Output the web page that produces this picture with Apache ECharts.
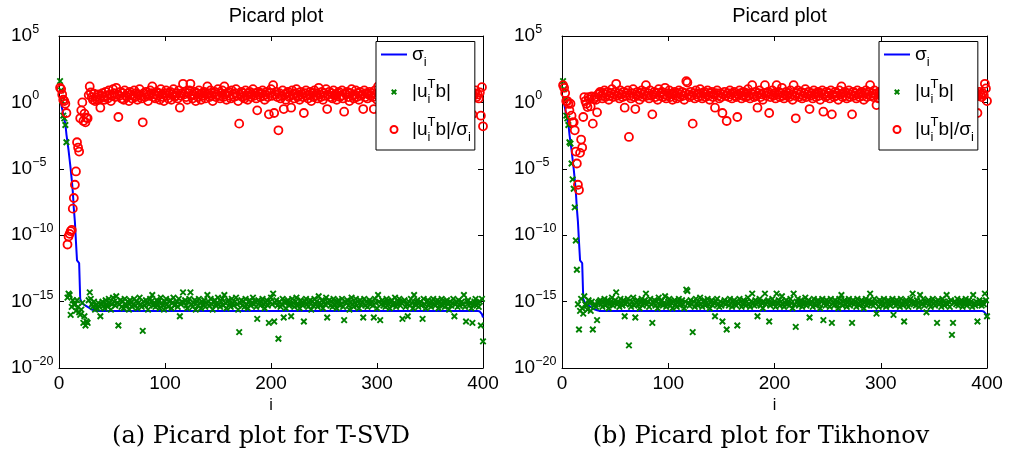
<!DOCTYPE html>
<html><head><meta charset="utf-8">
<script src="https://cdn.jsdelivr.net/npm/echarts@6/dist/echarts.min.js"></script>
<style>html,body{margin:0;padding:0;background:#fff}#c{width:1010px;height:464px}</style>
</head><body><div id="c"></div>
<script>
// ---------------- data (log10 of the plotted values, i = 1..400) ----------------
const xTicks = [0, 100, 200, 300, 400];
const yTickExponents = [-20, -15, -10, -5, 0, 5];
const panelTitles = ['Picard plot', 'Picard plot'];
const captions = ['(a) Picard plot for T-SVD', '(b) Picard plot for Tikhonov'];
const seriesNames = ['\u03c3_i', '|u_i^T b|', '|u_i^T b|/\u03c3_i'];
const xName = 'i';

// singular values sigma_i (same in both panels)
const sigmaExp = [
0.3,-0.1,-0.5,-0.9,-1.3,-1.6,-2.4,-3.0,-3.6,-4.3,
-5.0,-5.8,-6.7,-8.0,-9.0,-10.5,-11.9,-12.0,-12.1,-14.8,
-15.0,-15.1,-15.2,-15.25,-15.3,-15.35,-15.4,-15.45,-15.5,-15.55,
-15.6,-15.62,-15.65,-15.7,-15.7,-15.7,-15.7,-15.7,-15.7,-15.7,
-15.7,-15.7,-15.7,-15.7,-15.7,-15.7,-15.7,-15.7,-15.7,-15.7,
-15.7,-15.7,-15.7,-15.7,-15.7,-15.7,-15.7,-15.7,-15.7,-15.7,
-15.7,-15.7,-15.7,-15.7,-15.7,-15.7,-15.7,-15.7,-15.7,-15.7,
-15.7,-15.7,-15.7,-15.7,-15.7,-15.7,-15.7,-15.7,-15.7,-15.7,
-15.7,-15.7,-15.7,-15.7,-15.7,-15.7,-15.7,-15.7,-15.7,-15.7,
-15.7,-15.7,-15.7,-15.7,-15.7,-15.7,-15.7,-15.7,-15.7,-15.7,
-15.7,-15.7,-15.7,-15.7,-15.7,-15.7,-15.7,-15.7,-15.7,-15.7,
-15.7,-15.7,-15.7,-15.7,-15.7,-15.7,-15.7,-15.7,-15.7,-15.7,
-15.7,-15.7,-15.7,-15.7,-15.7,-15.7,-15.7,-15.7,-15.7,-15.7,
-15.7,-15.7,-15.7,-15.7,-15.7,-15.7,-15.7,-15.7,-15.7,-15.7,
-15.7,-15.7,-15.7,-15.7,-15.7,-15.7,-15.7,-15.7,-15.7,-15.7,
-15.7,-15.7,-15.7,-15.7,-15.7,-15.7,-15.7,-15.7,-15.7,-15.7,
-15.7,-15.7,-15.7,-15.7,-15.7,-15.7,-15.7,-15.7,-15.7,-15.7,
-15.7,-15.7,-15.7,-15.7,-15.7,-15.7,-15.7,-15.7,-15.7,-15.7,
-15.7,-15.7,-15.7,-15.7,-15.7,-15.7,-15.7,-15.7,-15.7,-15.7,
-15.7,-15.7,-15.7,-15.7,-15.7,-15.7,-15.7,-15.7,-15.7,-15.7,
-15.7,-15.7,-15.7,-15.7,-15.7,-15.7,-15.7,-15.7,-15.7,-15.7,
-15.7,-15.7,-15.7,-15.7,-15.7,-15.7,-15.7,-15.7,-15.7,-15.7,
-15.7,-15.7,-15.7,-15.7,-15.7,-15.7,-15.7,-15.7,-15.7,-15.7,
-15.7,-15.7,-15.7,-15.7,-15.7,-15.7,-15.7,-15.7,-15.7,-15.7,
-15.7,-15.7,-15.7,-15.7,-15.7,-15.7,-15.7,-15.7,-15.7,-15.7,
-15.7,-15.7,-15.7,-15.7,-15.7,-15.7,-15.7,-15.7,-15.7,-15.7,
-15.7,-15.7,-15.7,-15.7,-15.7,-15.7,-15.7,-15.7,-15.7,-15.7,
-15.7,-15.7,-15.7,-15.7,-15.7,-15.7,-15.7,-15.7,-15.7,-15.7,
-15.7,-15.7,-15.7,-15.7,-15.7,-15.7,-15.7,-15.7,-15.7,-15.7,
-15.7,-15.7,-15.7,-15.7,-15.7,-15.7,-15.7,-15.7,-15.7,-15.7,
-15.7,-15.7,-15.7,-15.7,-15.7,-15.7,-15.7,-15.7,-15.7,-15.7,
-15.7,-15.7,-15.7,-15.7,-15.7,-15.7,-15.7,-15.7,-15.7,-15.7,
-15.7,-15.7,-15.7,-15.7,-15.7,-15.7,-15.7,-15.7,-15.7,-15.7,
-15.7,-15.7,-15.7,-15.7,-15.7,-15.7,-15.7,-15.7,-15.7,-15.7,
-15.7,-15.7,-15.7,-15.7,-15.7,-15.7,-15.7,-15.7,-15.7,-15.7,
-15.7,-15.7,-15.7,-15.7,-15.7,-15.7,-15.7,-15.7,-15.7,-15.7,
-15.7,-15.7,-15.7,-15.7,-15.7,-15.7,-15.7,-15.7,-15.7,-15.7,
-15.7,-15.7,-15.7,-15.7,-15.7,-15.7,-15.7,-15.7,-15.7,-15.7,
-15.7,-15.7,-15.7,-15.7,-15.7,-15.7,-15.7,-15.7,-15.7,-15.7,
-15.7,-15.7,-15.7,-15.7,-15.7,-15.7,-15.75,-15.8,-15.95,-16.2
];

// panel (a): |u_i^T b|
const uTbExpA = [
1.6,0.9,0.1,-1.0,-1.2,-1.7,-3.0,-14.7,-14.4,-14.5,
-16.0,-15.4,-14.9,-15.2,-15.2,-15.7,-14.9,-15.4,-15.8,-16.0,
-15.6,-15.1,-16.6,-16.1,-16.8,-16.5,-16.6,-14.9,-14.3,-14.8,
-15.2,-15.4,-15.0,-15.6,-15.3,-15.5,-15.1,-15.4,-16.1,-15.2,
-15.0,-15.3,-15.5,-14.9,-15.2,-15.4,-14.8,-15.1,-15.6,-15.2,
-14.7,-15.0,-15.3,-14.6,-15.1,-16.8,-15.2,-14.9,-15.4,-15.0,
-15.5,-14.8,-15.2,-15.3,-15.0,-15.6,-14.9,-15.1,-15.4,-15.2,
-14.8,-15.3,-15.0,-15.5,-15.1,-14.7,-15.2,-15.4,-17.2,-15.0,
-15.3,-14.9,-15.1,-15.6,-15.2,-14.8,-15.0,-14.5,-15.3,-15.1,
-15.4,-14.9,-15.2,-15.0,-15.5,-14.7,-15.1,-15.3,-15.6,-15.0,
-14.8,-15.2,-15.4,-15.0,-14.9,-15.5,-15.1,-14.7,-15.3,-15.2,
-15.0,-15.4,-14.8,-16.1,-15.2,-15.0,-14.3,-15.1,-14.9,-15.3,
-15.5,-15.0,-14.8,-14.3,-15.2,-15.4,-15.1,-14.9,-15.6,-15.0,
-15.3,-14.8,-15.1,-15.5,-15.0,-15.2,-14.9,-15.4,-15.1,-14.5,
-15.0,-15.3,-14.8,-15.2,-15.6,-15.0,-14.9,-15.3,-15.1,-14.7,
-15.2,-15.4,-15.0,-14.8,-15.3,-14.5,-15.1,-15.5,-15.0,-14.9,
-15.2,-15.4,-14.8,-15.1,-15.3,-15.0,-14.7,-15.2,-15.6,-17.3,
-15.1,-14.9,-15.3,-15.0,-15.4,-14.8,-15.2,-15.5,-15.0,-14.9,
-15.3,-15.1,-14.7,-15.2,-15.0,-15.4,-16.3,-14.9,-15.1,-15.3,
-15.0,-14.8,-15.2,-15.5,-15.1,-14.9,-15.3,-16.6,-15.0,-14.7,
-15.2,-14.4,-16.5,-15.1,-14.9,-15.3,-17.8,-15.0,-15.4,-15.2,
-14.8,-16.2,-15.1,-15.5,-15.0,-14.9,-15.3,-15.2,-16.1,-14.8,
-15.1,-15.4,-15.0,-14.7,-15.3,-15.2,-15.5,-14.9,-15.1,-15.3,
-16.5,-15.0,-14.8,-15.2,-15.4,-15.1,-14.9,-15.6,-15.0,-15.3,
-14.8,-15.2,-15.0,-15.4,-14.6,-15.1,-15.3,-14.9,-15.5,-15.0,
-15.2,-14.7,-16.2,-15.1,-14.9,-15.3,-15.0,-15.4,-14.8,-15.2,
-15.1,-15.5,-15.0,-14.9,-15.3,-15.2,-14.8,-15.4,-16.4,-15.0,
-15.1,-14.9,-15.3,-15.6,-15.0,-14.7,-15.2,-15.4,-15.1,-14.8,
-15.3,-15.0,-15.5,-14.9,-15.2,-15.1,-16.2,-14.8,-15.3,-15.0,
-15.4,-15.1,-14.9,-15.2,-15.0,-15.3,-16.2,-14.8,-15.1,-15.5,
-14.5,-15.0,-16.4,-15.2,-14.9,-15.3,-15.1,-15.4,-14.8,-15.0,
-15.2,-15.5,-15.0,-14.9,-15.3,-15.1,-14.7,-15.4,-15.2,-15.0,
-14.8,-15.3,-15.1,-16.3,-15.0,-14.9,-15.4,-15.2,-16.1,-15.0,
-15.3,-14.8,-15.1,-15.5,-14.5,-15.2,-15.0,-14.9,-15.4,-15.1,
-15.0,-15.3,-16.3,-14.8,-15.2,-15.5,-15.0,-14.9,-15.3,-15.1,
-15.4,-15.0,-14.8,-15.2,-15.3,-15.1,-14.9,-15.5,-15.0,-15.2,
-14.8,-15.3,-15.1,-15.4,-15.0,-14.9,-15.2,-15.6,-15.0,-15.3,
-15.1,-14.8,-16.1,-15.2,-15.0,-15.4,-14.9,-15.3,-15.1,-15.0,
-15.2,-14.5,-15.4,-16.5,-15.0,-14.9,-15.3,-15.1,-15.5,-16.6,
-15.2,-15.0,-14.8,-15.3,-15.1,-15.4,-15.0,-16.8,-14.8,-18.0
];

// panel (a): |u_i^T b| / sigma_i
const ratioExpA = [
1.1,1.0,0.6,0.2,0.1,-0.1,-0.8,-10.7,-10.1,-9.9,
-9.7,-9.6,-8.0,-7.2,-6.2,-5.2,-3.0,-3.4,-3.7,-1.2,
-0.6,0.0,-1.4,-0.85,-1.5,-1.15,-1.2,0.55,1.2,0.75,
0.4,0.2,0.65,0.1,0.4,0.2,0.6,0.3,-0.4,0.5,
0.7,0.4,0.2,0.8,0.5,0.3,0.9,0.6,0.1,0.5,
1.0,0.7,0.4,1.1,0.6,-1.1,0.5,0.8,0.3,0.7,
0.2,0.9,0.5,0.4,0.7,0.1,0.8,0.6,0.3,0.5,
0.9,0.4,0.7,0.2,0.6,1.0,0.5,0.3,-1.5,0.7,
0.4,0.8,0.6,0.1,0.5,0.9,0.7,1.2,0.4,0.6,
0.3,0.8,0.5,0.7,0.2,1.0,0.6,0.4,0.1,0.7,
0.9,0.5,0.3,0.7,0.8,0.2,0.6,1.0,0.4,0.5,
0.7,0.3,0.9,-0.4,0.5,0.7,1.4,0.6,0.8,0.4,
0.2,0.7,0.9,1.4,0.5,0.3,0.6,0.8,0.1,0.7,
0.4,0.9,0.6,0.2,0.7,0.5,0.8,0.3,0.6,1.2,
0.7,0.4,0.9,0.5,0.1,0.7,0.8,0.4,0.6,1.0,
0.5,0.3,0.7,0.9,0.4,1.2,0.6,0.2,0.7,0.8,
0.5,0.3,0.9,0.6,0.4,0.7,1.0,0.5,0.1,-1.6,
0.6,0.8,0.4,0.7,0.3,0.9,0.5,0.2,0.7,0.8,
0.4,0.6,1.0,0.5,0.7,0.3,-0.6,0.8,0.6,0.4,
0.7,0.9,0.5,0.2,0.6,0.8,0.4,-0.9,0.7,1.0,
0.5,1.3,-0.8,0.6,0.8,0.4,-2.1,0.7,0.3,0.5,
0.9,-0.5,0.6,0.2,0.7,0.8,0.4,0.5,-0.4,0.9,
0.6,0.3,0.7,1.0,0.4,0.5,0.2,0.8,0.6,0.4,
-0.8,0.7,0.9,0.5,0.3,0.6,0.8,0.1,0.7,0.4,
0.9,0.5,0.7,0.3,1.1,0.6,0.4,0.8,0.2,0.7,
0.5,1.0,-0.5,0.6,0.8,0.4,0.7,0.3,0.9,0.5,
0.6,0.2,0.7,0.8,0.4,0.5,0.9,0.3,-0.7,0.7,
0.6,0.8,0.4,0.1,0.7,1.0,0.5,0.3,0.6,0.9,
0.4,0.7,0.2,0.8,0.5,0.6,-0.5,0.9,0.4,0.7,
0.3,0.6,0.8,0.5,0.7,0.4,-0.5,0.9,0.6,0.2,
1.2,0.7,-0.7,0.5,0.8,0.4,0.6,0.3,0.9,0.7,
0.5,0.2,0.7,0.8,0.4,0.6,1.0,0.3,0.5,0.7,
0.9,0.4,0.6,-0.6,0.7,0.8,0.3,0.5,-0.4,0.7,
0.4,0.9,0.6,0.2,1.2,0.5,0.7,0.8,0.3,0.6,
0.7,0.4,-0.6,0.9,0.5,0.2,0.7,0.8,0.4,0.6,
0.3,0.7,0.9,0.5,0.4,0.6,0.8,0.2,0.7,0.5,
0.9,0.4,0.6,0.3,0.7,0.8,0.5,0.1,0.7,0.4,
0.6,0.9,-0.4,0.5,0.7,0.3,0.8,0.4,0.6,0.7,
0.5,1.2,0.3,-0.8,0.7,0.8,0.4,0.6,0.2,-0.9,
0.5,0.7,0.9,0.4,0.6,0.3,0.75,-1.0,1.15,-1.8
];

// panel (b): |u_i^T b|
const uTbExpB = [
1.6,1.0,0.2,-1.0,-1.2,-1.7,-3.0,-3.1,-4.6,-5.8,
-6.5,-7.9,-10.4,-12.6,-15.2,-17.1,-15.7,-14.8,-15.5,-15.9,
-14.6,-15.2,-15.3,-15.6,-14.9,-15.1,-15.7,-15.0,-17.1,-15.3,
-15.2,-15.4,-16.4,-15.1,-15.0,-14.9,-15.2,-15.4,-15.0,-14.8,
-15.3,-15.1,-14.9,-15.5,-15.2,-15.0,-14.7,-15.3,-15.1,-14.9,
-14.3,-15.2,-15.0,-15.4,-14.8,-15.1,-15.3,-14.9,-16.1,-15.2,
-15.0,-14.8,-18.3,-15.2,-15.4,-15.0,-14.7,-15.3,-16.2,-15.1,
-14.9,-15.2,-15.5,-15.0,-14.8,-15.3,-15.1,-14.9,-14.4,-15.2,
-15.0,-15.4,-14.8,-15.2,-16.6,-15.1,-14.9,-15.3,-15.0,-15.5,
-14.7,-15.2,-15.0,-14.9,-15.3,-15.1,-14.6,-15.4,-15.2,-15.0,
-14.8,-15.3,-15.1,-15.5,-15.0,-14.9,-15.2,-15.4,-15.0,-14.8,
-15.3,-15.1,-14.9,-15.2,-15.5,-15.0,-14.1,-14.2,-15.1,-15.3,
-14.9,-15.2,-17.3,-15.0,-15.4,-14.8,-15.1,-15.3,-15.0,-14.7,
-15.2,-15.4,-15.0,-14.9,-15.3,-15.1,-14.8,-15.2,-15.5,-15.0,
-14.9,-15.3,-15.1,-16.1,-15.0,-14.8,-15.2,-15.4,-15.0,-15.3,
-16.5,-15.1,-14.9,-15.2,-17.1,-15.0,-15.3,-14.8,-15.1,-15.4,
-15.0,-14.9,-15.2,-15.3,-16.8,-15.1,-14.8,-15.0,-15.4,-15.2,
-14.9,-15.1,-15.3,-15.0,-14.7,-15.2,-15.4,-15.0,-14.4,-15.1,
-15.3,-14.9,-15.2,-16.1,-15.0,-14.8,-15.3,-15.1,-15.5,-15.0,
-14.4,-15.2,-15.0,-14.9,-16.5,-15.3,-15.1,-14.8,-15.2,-15.0,
-15.4,-14.4,-15.1,-14.9,-15.3,-15.0,-14.6,-15.2,-15.4,-15.1,
-14.9,-15.2,-15.0,-15.3,-14.8,-15.1,-15.5,-14.4,-15.2,-16.9,
-15.0,-14.8,-15.3,-15.1,-14.9,-15.4,-15.2,-15.0,-14.7,-15.3,
-15.1,-14.9,-16.2,-15.2,-15.0,-15.4,-14.8,-15.1,-15.3,-15.0,
-14.9,-15.2,-15.5,-15.0,-14.8,-16.4,-15.1,-15.3,-14.9,-15.2,
-15.0,-15.4,-14.8,-16.6,-15.1,-15.3,-14.9,-15.2,-15.0,-15.5,
-14.8,-15.1,-14.5,-15.3,-15.0,-14.9,-15.2,-15.4,-15.0,-14.8,
-15.3,-15.1,-16.6,-14.9,-15.2,-15.0,-15.4,-14.8,-15.1,-15.3,
-15.0,-14.9,-15.2,-15.5,-15.0,-14.8,-15.3,-15.1,-14.9,-14.4,
-15.2,-15.0,-15.3,-14.8,-15.1,-15.9,-15.0,-15.4,-14.9,-15.2,
-15.0,-15.3,-14.8,-15.1,-15.4,-15.0,-14.9,-15.2,-15.3,-15.0,
-14.8,-16.0,-15.1,-15.3,-14.9,-15.2,-15.0,-15.4,-14.8,-15.1,
-15.3,-16.5,-15.0,-14.9,-15.2,-15.4,-15.0,-14.8,-15.1,-14.4,
-15.2,-15.0,-15.3,-14.9,-15.1,-15.4,-14.5,-15.0,-15.2,-14.8,
-15.3,-15.1,-15.8,-15.0,-14.9,-15.2,-15.4,-15.0,-14.8,-15.1,
-15.3,-15.0,-16.6,-14.9,-15.2,-15.1,-15.4,-14.8,-15.0,-15.3,
-15.1,-14.5,-15.2,-15.0,-15.4,-14.9,-17.5,-16.6,-15.1,-15.0,
-15.2,-14.8,-15.3,-15.1,-15.0,-14.9,-15.4,-15.2,-15.0,-14.8,
-15.3,-15.1,-14.9,-15.2,-15.0,-15.4,-14.5,-15.1,-15.3,-15.0,
-16.5,-15.2,-14.9,-15.1,-15.3,-15.0,-15.2,-14.4,-14.9,-16.1
];

// panel (b): |u_i^T b| / sigma_i
const ratioExpB = [
1.3,1.1,0.7,0.1,0.1,-0.1,-0.6,-0.1,-1.0,-1.5,
-1.5,-2.1,-3.7,-4.6,-6.2,-6.6,-3.8,-2.8,-3.4,-1.1,
0.4,0.1,-0.1,-0.35,0.4,0.25,-0.3,0.45,-1.6,0.25,
0.4,0.2,-0.75,0.6,0.7,0.8,0.5,0.3,0.7,0.9,
0.4,0.6,0.8,0.2,0.5,0.7,1.0,0.4,0.6,0.8,
1.4,0.5,0.7,0.3,0.9,0.6,0.4,0.8,-0.4,0.5,
0.7,0.9,-2.6,0.5,0.3,0.7,1.0,0.4,-0.5,0.6,
0.8,0.5,0.2,0.7,0.9,0.4,0.6,0.8,1.3,0.5,
0.7,0.3,0.9,0.5,-0.9,0.6,0.8,0.4,0.7,0.2,
1.0,0.5,0.7,0.8,0.4,0.6,1.1,0.3,0.5,0.7,
0.9,0.4,0.6,0.2,0.7,0.8,0.5,0.3,0.7,0.9,
0.4,0.6,0.8,0.5,0.2,0.7,1.6,1.5,0.6,0.4,
0.8,0.5,-1.6,0.7,0.3,0.9,0.6,0.4,0.7,1.0,
0.5,0.3,0.7,0.8,0.4,0.6,0.9,0.5,0.2,0.7,
0.8,0.4,0.6,-0.4,0.7,0.9,0.5,0.3,0.7,0.4,
-0.8,0.6,0.8,0.5,-1.4,0.7,0.4,0.9,0.6,0.3,
0.7,0.8,0.5,0.4,-1.1,0.6,0.9,0.7,0.3,0.5,
0.8,0.6,0.4,0.7,1.0,0.5,0.3,0.7,1.3,0.6,
0.4,0.8,0.5,-0.4,0.7,0.9,0.4,0.6,0.2,0.7,
1.3,0.5,0.7,0.8,-0.8,0.4,0.6,0.9,0.5,0.7,
0.3,1.3,0.6,0.8,0.4,0.7,1.1,0.5,0.3,0.6,
0.8,0.5,0.7,0.4,0.9,0.6,0.2,1.3,0.5,-1.2,
0.7,0.9,0.4,0.6,0.8,0.3,0.5,0.7,1.0,0.4,
0.6,0.8,-0.5,0.5,0.7,0.3,0.9,0.6,0.4,0.7,
0.8,0.5,0.2,0.7,0.9,-0.7,0.6,0.4,0.8,0.5,
0.7,0.3,0.9,-0.9,0.6,0.4,0.8,0.5,0.7,0.2,
0.9,0.6,1.2,0.4,0.7,0.8,0.5,0.3,0.7,0.9,
0.4,0.6,-0.9,0.8,0.5,0.7,0.3,0.9,0.6,0.4,
0.7,0.8,0.5,0.2,0.7,0.9,0.4,0.6,0.8,1.3,
0.5,0.7,0.4,0.9,0.6,-0.2,0.7,0.3,0.8,0.5,
0.7,0.4,0.9,0.6,0.3,0.7,0.8,0.5,0.4,0.7,
0.9,-0.3,0.6,0.4,0.8,0.5,0.7,0.3,0.9,0.6,
0.4,-0.8,0.7,0.8,0.5,0.3,0.7,0.9,0.6,1.3,
0.5,0.7,0.4,0.8,0.6,0.3,1.2,0.7,0.5,0.9,
0.4,0.6,-0.1,0.7,0.8,0.5,0.3,0.7,0.9,0.6,
0.4,0.7,-0.9,0.8,0.5,0.6,0.3,0.9,0.7,0.4,
0.6,1.2,0.5,0.7,0.3,0.8,-1.8,-0.9,0.6,0.7,
0.5,0.9,0.4,0.6,0.7,0.8,0.3,0.5,0.7,0.9,
0.4,0.6,0.8,0.5,0.7,0.3,1.2,0.6,0.4,0.7,
-0.8,0.5,0.8,0.6,0.4,0.7,0.55,1.4,1.05,0.1
];

// ---------------- chart ----------------
const F = '"Liberation Sans", Arial, Helvetica, sans-serif';
const BLACK = '#000';
const toPts = arr => arr.map((e, k) => [k + 1, Math.pow(10, e)]);
const yTickValues = yTickExponents.map(e => Math.pow(10, e));

const gridDefs = [
  { left: 59, top: 36, width: 424, height: 332 },
  { left: 562, top: 36, width: 425, height: 332 }
];

function yLabel(v) {
  const e = Math.round(Math.log10(v));
  return '{b|10}{e|' + (e < 0 ? '\u2212' + (-e) : String(e)) + '}';
}
const yRich = {
  b: { fontFamily: F, fontSize: 19, lineHeight: 26, verticalAlign: 'middle', color: BLACK },
  e: { fontFamily: F, fontSize: 12.5, lineHeight: 12, verticalAlign: 'top', color: BLACK }
};

const xAxes = [], yAxes = [];
gridDefs.forEach((g, gi) => {
  ['bottom', 'top'].forEach(pos => {
    xAxes.push({
      gridIndex: gi, type: 'value', min: xTicks[0], max: xTicks[xTicks.length - 1],
      interval: xTicks[1] - xTicks[0], position: pos,
      name: pos === 'bottom' ? xName : '', nameLocation: 'middle', nameGap: 28,
      nameTextStyle: { fontFamily: F, fontSize: 16, color: BLACK },
      axisLine: { onZero: false, lineStyle: { color: BLACK, width: 1 } },
      axisTick: { inside: true, length: 5, lineStyle: { color: BLACK } },
      axisLabel: { show: pos === 'bottom', fontFamily: F, fontSize: 19, color: BLACK, margin: 6 },
      splitLine: { show: false }
    });
  });
  ['left', 'right'].forEach(pos => {
    yAxes.push({
      gridIndex: gi, type: 'log', logBase: 10, min: yTickValues[0], max: yTickValues[yTickValues.length - 1],
      position: pos,
      axisLine: { onZero: false, lineStyle: { color: BLACK, width: 1 } },
      axisTick: { inside: true, length: 5, lineStyle: { color: BLACK }, customValues: yTickValues },
      axisLabel: { show: pos === 'left', customValues: yTickValues, formatter: yLabel, rich: yRich,
                   align: 'left', margin: 48 },
      minorTick: { show: false }, splitLine: { show: false }
    });
  });
});

const X_PATH = 'path://M0,0L10,10M10,0L0,10';
const series = [];
const panels = [[uTbExpA, ratioExpA], [uTbExpB, ratioExpB]];
panels.forEach((p, gi) => {
  const xi = gi * 2, yi = gi * 2;
  series.push({
    name: seriesNames[0], type: 'line', xAxisIndex: xi, yAxisIndex: yi,
    data: toPts(sigmaExp), symbol: 'none', showSymbol: false,
    lineStyle: { color: '#0000ff', width: 2 }, itemStyle: { color: '#0000ff' }, z: 2
  });
  series.push({
    name: seriesNames[1], type: 'scatter', xAxisIndex: xi, yAxisIndex: yi,
    data: toPts(p[0]), symbol: X_PATH, symbolSize: 5.5,
    itemStyle: { color: '#008000', borderColor: '#008000', borderWidth: 1.9, opacity: 1 }, z: 3
  });
  series.push({
    name: seriesNames[2], type: 'scatter', xAxisIndex: xi, yAxisIndex: yi,
    data: toPts(p[1]), symbol: 'circle', symbolSize: 8,
    itemStyle: { color: 'rgba(0,0,0,0)', borderColor: '#ff0000', borderWidth: 1.8, opacity: 1 }, z: 4
  });
});

const legendText = {};
legendText[seriesNames[0]] = '{t|\u03c3}{s|i}';
legendText[seriesNames[1]] = '{t||u}{s0|i}{p|T}{t|b|}';
legendText[seriesNames[2]] = '{t||u}{s0|i}{p|T}{t|b|/\u03c3}{s|i}';
const legendRich = {
  t: { fontFamily: F, fontSize: 19, lineHeight: 28, verticalAlign: 'middle', color: BLACK },
  s: { fontFamily: F, fontSize: 13, lineHeight: 6, verticalAlign: 'bottom', color: BLACK },
  s0: { fontFamily: F, fontSize: 13, lineHeight: 6, verticalAlign: 'bottom', color: BLACK, width: 0 },
  p: { fontFamily: F, fontSize: 13, lineHeight: 11, verticalAlign: 'top', color: BLACK }
};
const legendData = [
  { name: seriesNames[0], icon: 'path://M0,-5M0,-1L26,-1L26,1L0,1ZM0,5' },
  { name: seriesNames[1], icon: 'path://M-3,-3M0,0L5,5M5,0L0,5M8,8' },
  { name: seriesNames[2], icon: 'path://M-1.5,-1.5M0,3.5A3.5,3.5,0,1,1,7,3.5A3.5,3.5,0,1,1,0,3.5ZM8.5,8.5' }
];
const legends = [376, 879].map(lx => ({
  data: legendData, orient: 'vertical', left: lx, top: 41.5,
  padding: [3.5, 4, 6.5, 5], itemGap: 9.5, itemWidth: 26, itemHeight: 10,
  backgroundColor: '#fff', borderColor: BLACK, borderWidth: 1, selectedMode: false,
  formatter: name => legendText[name], textStyle: { rich: legendRich, color: BLACK },
  z: 10
}));

const titles = [
  { text: panelTitles[0], left: 271, top: 1, textAlign: 'center',
    textStyle: { fontFamily: F, fontSize: 20, fontWeight: 'normal', color: BLACK } },
  { text: panelTitles[1], left: 774.5, top: 1, textAlign: 'center',
    textStyle: { fontFamily: F, fontSize: 20, fontWeight: 'normal', color: BLACK } },
  { text: captions[0], left: 256, top: 420, textAlign: 'center',
    textStyle: { fontFamily: '"DejaVu Serif", serif', fontSize: 24, fontWeight: 'normal', color: BLACK } },
  { text: captions[1], left: 756, top: 420, textAlign: 'center',
    textStyle: { fontFamily: '"DejaVu Serif", serif', fontSize: 24, fontWeight: 'normal', color: BLACK } }
];

const chart = echarts.init(document.getElementById('c'), null, { renderer: 'canvas' });
chart.setOption({
  animation: false,
  backgroundColor: '#fff',
  title: titles,
  legend: legends,
  grid: gridDefs,
  xAxis: xAxes,
  yAxis: yAxes,
  series: series
});
</script>
</body></html>
